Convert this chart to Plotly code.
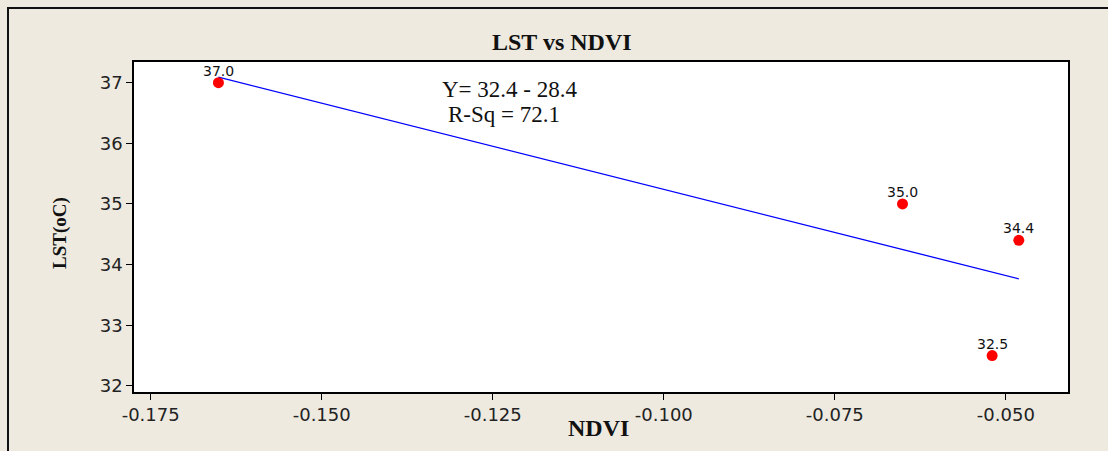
import plotly.graph_objects as go

# NDVI vs land surface temperature samples
ndvi = [-0.1651, -0.0651, -0.0481, -0.0520]
lst = [37.0, 35.0, 34.4, 32.5]
point_labels = ["37.0", "35.0", "34.4", "32.5"]

# Fitted regression (LST = intercept + slope * NDVI)
fit_intercept = 32.4
fit_slope = -28.4
r_sq = 72.1

x_ticks = [-0.175, -0.150, -0.125, -0.100, -0.075, -0.050]
x_tick_text = ["-0.175", "-0.150", "-0.125", "-0.100", "-0.075", "-0.050"]
y_ticks = [32, 33, 34, 35, 36, 37]

line_x = [min(ndvi), max(ndvi)]
line_y = [fit_intercept + fit_slope * v for v in line_x]

BG = "#EEEAE0"
SERIF = "Liberation Serif"
SANS = "DejaVu Sans"

fig = go.Figure()
fig.add_trace(go.Scatter(
    x=line_x, y=line_y, mode="lines",
    line=dict(color="#0000FF", width=1.3),
    hoverinfo="skip", showlegend=False,
))
fig.add_trace(go.Scatter(
    x=ndvi, y=lst, mode="markers",
    marker=dict(color="#FF0000", size=11, line=dict(width=0)),
    showlegend=False,
))

axis_common = dict(
    showgrid=False, zeroline=False,
    showline=True, linecolor="black", linewidth=1.5, mirror=True,
    ticks="outside", ticklen=6, tickwidth=1, tickcolor="black",
    tickfont=dict(family=SANS, size=18, color="#222222"),
)

fig.update_xaxes(range=[-0.17744, -0.04091], tickvals=x_ticks,
                 ticktext=x_tick_text, **axis_common)
fig.update_yaxes(range=[31.90, 37.34], tickvals=y_ticks, **axis_common)

annotations = [
    dict(text="<b>LST vs NDVI</b>", x=0.4582, y=1.0606, xanchor="center",
         yanchor="middle", font=dict(family=SERIF, size=24, color="#111111")),
    dict(text="<b>NDVI</b>", x=0.497, y=-0.108, xanchor="center",
         yanchor="middle", font=dict(family=SERIF, size=24, color="#111111")),
    dict(text="<b>LST(oC)</b>", x=-0.0792, y=0.482, xanchor="center",
         yanchor="middle", textangle=-90,
         font=dict(family=SERIF, size=19, color="#111111")),
    dict(text=f"Y= {fit_intercept} - {abs(fit_slope)}", x=0.3276, y=0.918,
         xanchor="left", yanchor="middle",
         font=dict(family=SERIF, size=23, color="#111111")),
    dict(text=f"R-Sq = {r_sq}", x=0.334, y=0.8424,
         xanchor="left", yanchor="middle",
         font=dict(family=SERIF, size=23, color="#111111")),
]
for a in annotations:
    a.update(xref="paper", yref="paper", showarrow=False)

# Value labels above each point
for xv, yv, lbl in zip(ndvi, lst, point_labels):
    annotations.append(dict(
        x=xv, y=yv, xref="x", yref="y", text=lbl, showarrow=False,
        xanchor="center", yanchor="middle", yshift=12,
        font=dict(family=SANS, size=14, color="#111111"),
    ))

# Outer frame (left and top edges)
fig.add_shape(type="path", xref="paper", yref="paper",
              path="M -0.1349,-0.25 L -0.1349,1.1636 L 1.2,1.1636",
              line=dict(color="#111111", width=2))

fig.update_layout(
    width=1108, height=451,
    margin=dict(l=134, r=40, t=62, b=59),
    paper_bgcolor=BG, plot_bgcolor="white",
    annotations=annotations,
    showlegend=False,
)

fig.write_html("out.html")
